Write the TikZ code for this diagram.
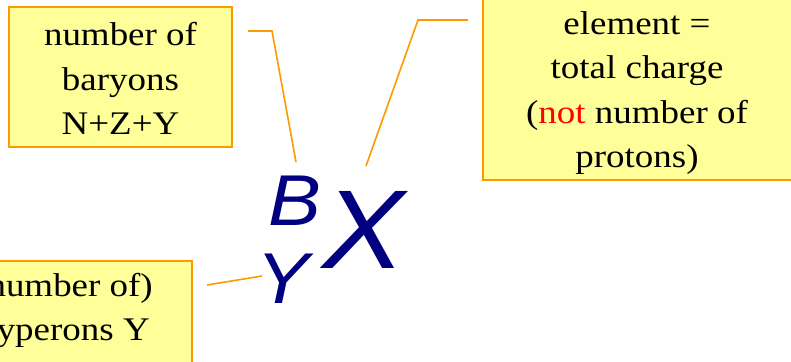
\documentclass[tikz,border=0pt]{standalone}
\usepackage{fontspec}
\setmainfont{Liberation Serif}
\setsansfont{Liberation Sans}
\usetikzlibrary{positioning, calc}
\definecolor{boxfill}{HTML}{FFFF99}
\definecolor{boxline}{HTML}{FF9900}
\definecolor{symbcol}{HTML}{000080}

\tikzset{
  infobox/.style={draw=boxline, fill=boxfill, line width=1.6pt, inner sep=0pt},
  infotext/.style={align=center, inner sep=0pt, xscale=1.12, transform shape, font=\fontsize{33}{44.5}\selectfont},
  pointer/.style={draw=boxline, line width=1.6pt},
  symb/.style={text=symbcol, inner sep=0pt, anchor=base west, xscale=1.1, transform shape}
}

\begin{document}
\begin{tikzpicture}[x=1pt, y=-1pt]
    \useasboundingbox (0,0) rectangle (791,361);
    \clip (0,0) rectangle (791,361);

    % Riquadri
    \node[infobox, minimum width=223, minimum height=140] (baryons) at (120.5,77) {};
    \node[infobox, minimum width=322, minimum height=200] (charge) at (644,80) {};
    \node[infobox, minimum width=252, minimum height=119] (hyperons) at (66,320.5) {};

    % Testi
    \node[infotext] (baryonstext) at (120.5,78.5) {number of\\baryons\\N+Z+Y};
    \node[infotext] (chargetext) at (637,93) {element =\\total charge\\(\textcolor{red}{not} number of\\protons)};
    \node[infotext] (hyperonstext) at (64,310.5) {(number of)\\hyperons Y};

    % Simbolo
    \node[symb, font=\fontsize{72}{72}\sffamily\itshape] (nb) at (268,225) {B};
    \node[symb, font=\fontsize{72}{72}\sffamily\itshape] (ny) at (256,303) {Y};
    \node[symb, font=\fontsize{112}{112}\sffamily\itshape] (el) at (322,268) {X};

    % Linee di richiamo
    \coordinate (b-start) at (248,31);
    \coordinate (b-bend) at (272,31);
    \coordinate (b-end) at (296,162);
    \draw[pointer] (b-start) -- (b-bend) -- (b-end);

    \coordinate (x-start) at (468,20);
    \coordinate (x-bend) at (418,20);
    \coordinate (x-end) at (366,166);
    \draw[pointer] (x-start) -- (x-bend) -- (x-end);

    \coordinate (y-start) at (207,285);
    \coordinate (y-end) at (262,276);
    \draw[pointer] (y-start) -- (y-end);
\end{tikzpicture}
\end{document}
